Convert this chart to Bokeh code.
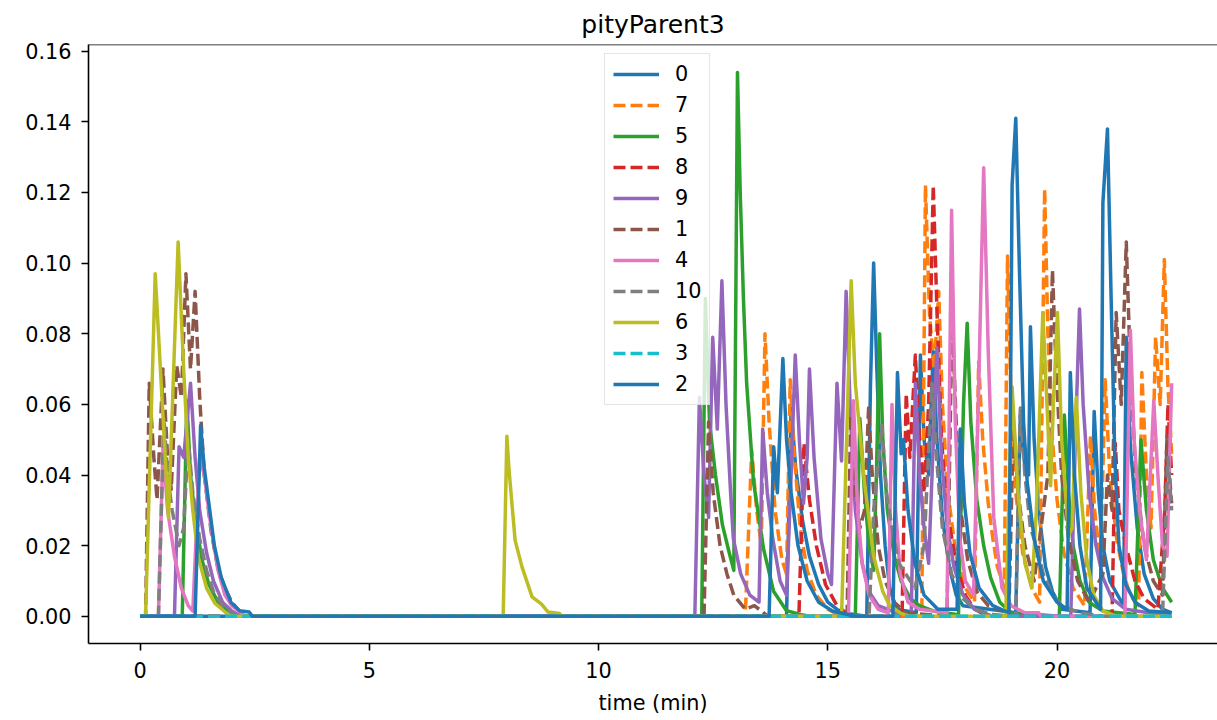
from bokeh.plotting import figure
from bokeh.models import Range1d, FixedTicker, NumeralTickFormatter, Legend, LegendItem, Span
from bokeh.embed import file_html
from bokeh.resources import INLINE

# ---------------- data (time in min, value) ----------------
names = ["0", "7", "5", "8", "9", "1", "4", "10", "6", "3", "2"]
x_ticks = [0, 5, 10, 15, 20]
y_ticks = [0.0, 0.02, 0.04, 0.06, 0.08, 0.10, 0.12, 0.14, 0.16]

t0 = [0, 14.1, 14.2, 14.3, 14.45, 14.6, 14.8, 15.0, 15.3, 15.85, 15.93, 16.0, 16.07, 16.15, 16.25, 16.35, 16.5,
      16.93, 17.02, 17.1, 17.2, 17.3, 17.38, 17.5, 17.65, 17.8, 17.95, 19.1, 19.2, 19.3, 19.38, 19.42, 19.5,
      19.6, 19.75, 19.9, 20.1, 20.72, 20.81, 20.9, 21.0, 21.15, 21.45, 21.51, 21.6, 21.75, 21.9, 22.1, 22.3, 22.5]
v0 = [0, 0, 0.059, 0.042, 0.027, 0.017, 0.009, 0.004, 0.001, 0.0, 0.065, 0.100, 0.070, 0.040, 0.020, 0.008, 0.002,
      0.001, 0.074, 0.050, 0.040, 0.075, 0.050, 0.028, 0.014, 0.006, 0.003, 0.001, 0.057, 0.042, 0.040, 0.082, 0.050,
      0.030, 0.014, 0.007, 0.002, 0.001, 0.058, 0.035, 0.020, 0.010, 0.003, 0.079, 0.048, 0.025, 0.012, 0.005, 0.002, 0.001]

t7 = [0, 13.2, 13.34, 13.45, 13.55, 13.63, 13.72, 13.85, 14.0, 14.1, 14.18, 14.27, 14.4, 14.55, 14.75, 15.0, 15.3,
      17.05, 17.13, 17.22, 17.32, 17.42, 17.5, 17.62, 17.8, 18.0, 18.2, 18.29, 18.38, 18.5, 18.6, 18.7, 18.85,
      18.92, 19.0, 19.1, 19.25, 19.45, 19.62, 19.73, 19.8, 19.9, 20.0, 20.15, 20.35, 20.6, 20.73, 20.82, 20.95,
      21.05, 21.15, 21.3, 21.45, 21.6, 21.78, 21.85, 21.95, 22.05, 22.15, 22.25, 22.34, 22.42, 22.5]
v7 = [0, 0, 0.047, 0.030, 0.020, 0.080, 0.055, 0.030, 0.016, 0.012, 0.067, 0.045, 0.025, 0.013, 0.006, 0.002, 0,
      0, 0.122, 0.085, 0.070, 0.092, 0.060, 0.035, 0.017, 0.008, 0.004, 0.072, 0.050, 0.032, 0.022, 0.014, 0.008,
      0.102, 0.060, 0.035, 0.018, 0.008, 0.004, 0.121, 0.080, 0.050, 0.033, 0.018, 0.008, 0.003, 0.051, 0.030, 0.015,
      0.067, 0.040, 0.022, 0.012, 0.006, 0.003, 0.069, 0.040, 0.025, 0.079, 0.060, 0.101, 0.065, 0.046]

t5 = [0, 0.92, 1.02, 1.1, 1.2, 1.35, 1.5, 1.7, 1.9, 2.1, 12.25, 12.33, 12.42, 12.55, 12.7, 12.85, 12.95, 13.03,
      13.09, 13.16, 13.23, 13.38, 13.6, 13.82, 14.1, 14.4, 14.6, 15.6, 15.7, 15.8, 15.9, 16.0, 16.06, 16.13, 16.2,
      16.3, 16.45, 16.6, 16.8, 17.0, 17.3, 17.8, 17.85, 17.96, 18.04, 18.12, 18.25, 18.4, 18.55, 18.75, 19.0, 20.05,
      20.16, 20.25, 20.35, 20.5, 20.7, 21.0, 21.7, 21.83, 21.95, 22.1, 22.3, 22.5]
v5 = [0, 0, 0.061, 0.040, 0.028, 0.016, 0.009, 0.004, 0.0015, 0, 0, 0.090, 0.055, 0.040, 0.026, 0.018, 0.013, 0.154,
      0.120, 0.090, 0.066, 0.038, 0.019, 0.007, 0.0016, 0.0005, 0, 0, 0.056, 0.035, 0.020, 0.013, 0.040, 0.080, 0.050,
      0.030, 0.017, 0.010, 0.005, 0.003, 0.0015, 0.0005, 0, 0.060, 0.083, 0.055, 0.033, 0.020, 0.011, 0.004, 0.001, 0,
      0.057, 0.035, 0.020, 0.010, 0.004, 0.0015, 0.0005, 0.050, 0.030, 0.016, 0.008, 0.004]

t8 = [0, 14.37, 14.48, 14.6, 14.75, 14.95, 15.2, 15.45, 15.6, 16.62, 16.71, 16.79, 16.91, 17.0, 17.1, 17.2, 17.3,
      17.38, 17.48, 17.6, 17.8, 18.0, 18.2, 18.5, 21.2, 21.27, 21.35, 21.5, 21.7, 21.9, 22.2, 22.35, 22.42, 22.5]
v8 = [0, 0, 0.049, 0.033, 0.020, 0.009, 0.003, 0.0005, 0, 0, 0.063, 0.045, 0.074, 0.050, 0.035, 0.060, 0.122,
      0.087, 0.050, 0.030, 0.015, 0.006, 0.002, 0, 0, 0.049, 0.030, 0.020, 0.010, 0.005, 0.002, 0.030, 0.060, 0.040]

t9 = [0, 0.75, 0.85, 0.95, 1.1, 1.2, 1.3, 1.45, 1.6, 1.8, 2.0, 2.2, 12.1, 12.2, 12.3, 12.4, 12.49, 12.59, 12.69,
      12.78, 12.88, 12.94, 13.1, 13.3, 13.5, 13.58, 13.68, 13.8, 13.96, 14.1, 14.2, 14.29, 14.38, 14.47, 14.55, 14.6,
      14.7, 14.85, 15.0, 15.08, 15.2, 15.3, 15.4, 15.5, 15.6, 15.75, 15.9, 16.1, 16.5, 16.82, 16.91, 17.0, 17.1, 17.2,
      17.38, 17.48, 17.6, 17.75, 17.95, 18.2, 18.6, 20.3, 20.4, 20.49, 20.57, 20.7, 20.85, 21.0, 21.2, 21.5, 22.5]
v9 = [0, 0, 0.048, 0.045, 0.066, 0.045, 0.030, 0.018, 0.010, 0.004, 0.0015, 0, 0, 0.062, 0.040, 0.028, 0.079, 0.053,
      0.095, 0.060, 0.035, 0.022, 0.012, 0.006, 0.004, 0.053, 0.035, 0.022, 0.010, 0.006, 0.040, 0.074, 0.050, 0.032,
      0.045, 0.070, 0.045, 0.022, 0.012, 0.009, 0.066, 0.044, 0.092, 0.055, 0.030, 0.015, 0.007, 0.003, 0.001, 0,
      0.066, 0.040, 0.025, 0.015, 0.076, 0.045, 0.026, 0.014, 0.006, 0.002, 0, 0, 0.050, 0.087, 0.060, 0.035, 0.020,
      0.011, 0.005, 0.002, 0]

t1 = [0, 0.12, 0.2, 0.3, 0.37, 0.5, 0.6, 0.68, 0.8, 0.9, 1.0, 1.1, 1.2, 1.3, 1.4, 1.55, 1.7, 1.85, 2.0, 2.2, 2.35,
      12.3, 12.4, 12.5, 12.65, 12.8, 12.95, 13.2, 13.4, 13.55, 13.7, 15.42, 15.5, 15.6, 15.7, 15.8, 15.89, 15.97,
      16.1, 16.25, 16.45, 16.7, 17.6, 17.71, 17.8, 17.9, 18.05, 18.25, 18.5, 18.95, 19.05, 19.15, 19.3, 19.5, 19.8,
      19.9, 19.98, 20.1, 20.25, 20.45, 20.7, 21.0, 21.1, 21.2, 21.29, 21.4, 21.51, 21.6, 21.72, 21.9, 22.1, 22.3,
      22.4, 22.48, 22.5]
v1 = [0, 0, 0.066, 0.045, 0.033, 0.070, 0.045, 0.036, 0.071, 0.062, 0.097, 0.070, 0.092, 0.062, 0.040, 0.024,
      0.0135, 0.008, 0.004, 0.001, 0, 0, 0.055, 0.035, 0.020, 0.012, 0.006, 0.002, 0.003, 0.0015, 0, 0, 0.057, 0.035,
      0.025, 0.030, 0.059, 0.040, 0.020, 0.010, 0.004, 0.001, 0, 0.085, 0.055, 0.030, 0.016, 0.007, 0.003, 0.001,
      0.055, 0.035, 0.020, 0.010, 0.040, 0.098, 0.070, 0.040, 0.022, 0.010, 0.004, 0.012, 0.040, 0.030, 0.086, 0.060,
      0.106, 0.070, 0.040, 0.020, 0.010, 0.006, 0.051, 0.035, 0.032]

t4 = [0, 0.4, 0.5, 0.6, 0.75, 0.9, 1.05, 1.15, 1.3, 1.4, 1.55, 1.7, 1.85, 2.0, 2.2, 2.3, 15.45, 15.56, 15.65, 15.75,
      15.9, 16.1, 16.32, 16.4, 16.48, 16.58, 16.75, 17.0, 17.6, 17.7, 17.78, 17.88, 18.0, 18.18, 18.3, 18.4, 18.5,
      18.62, 18.8, 19.0, 19.3, 19.6, 19.65, 21.48, 21.6, 21.68, 21.8, 21.95, 22.11, 22.2, 22.3, 22.4, 22.5]
v4 = [0, 0, 0.048, 0.030, 0.017, 0.008, 0.003, 0.0015, 0.045, 0.040, 0.025, 0.013, 0.006, 0.003, 0.001, 0, 0,
      0.061, 0.030, 0.015, 0.006, 0.002, 0.001, 0.060, 0.030, 0.012, 0.004, 0.002, 0.001, 0.115, 0.055, 0.022, 0.010,
      0.006, 0.070, 0.127, 0.075, 0.028, 0.008, 0.003, 0.001, 0.001, 0, 0, 0.081, 0.050, 0.030, 0.016, 0.061, 0.040,
      0.020, 0.017, 0.066]

t10 = [0, 0.4, 0.52, 0.6, 0.7, 0.85, 0.95, 1.05, 1.15, 1.3, 1.45, 1.6, 1.8, 2.0, 2.1, 15.9, 16.0, 16.18, 16.28,
       16.4, 16.55, 16.7, 16.9, 17.1, 17.27, 17.37, 17.5, 17.7, 17.95, 18.2, 18.6, 19.1, 19.2, 19.3, 19.42, 19.55,
       19.7, 19.9, 20.1, 20.5, 21.0, 22.3, 22.42, 22.5]
v10 = [0, 0, 0.056, 0.040, 0.030, 0.020, 0.025, 0.050, 0.035, 0.022, 0.013, 0.007, 0.003, 0.001, 0, 0, 0.030, 0.054,
       0.035, 0.025, 0.015, 0.012, 0.008, 0.020, 0.066, 0.045, 0.025, 0.012, 0.005, 0.002, 0.0005, 0, 0.059, 0.040,
       0.025, 0.020, 0.012, 0.006, 0.003, 0.001, 0, 0, 0.045, 0.030]

t6 = [0, 0.12, 0.33, 0.62, 0.83, 0.95, 1.05, 1.15, 1.27, 1.45, 1.63, 1.92, 2.0, 7.92, 8.0, 8.05, 8.18, 8.33, 8.55,
      8.75, 8.9, 9.15, 9.2, 15.3, 15.51, 15.6, 15.8, 16.0, 16.2, 16.35, 16.6, 16.8, 18.88, 19.02, 19.15, 19.3, 19.45,
      19.55, 19.69, 19.78, 19.86, 19.92, 20.01, 20.1, 20.25, 20.33, 20.42, 20.52, 20.65, 20.8, 21.0, 21.3, 22.5]
v6 = [0, 0, 0.097, 0.028, 0.106, 0.070, 0.045, 0.030, 0.0167, 0.008, 0.0037, 0.0005, 0, 0, 0.051, 0.041, 0.0215,
      0.014, 0.0055, 0.0035, 0.0012, 0.0008, 0, 0, 0.095, 0.066, 0.038, 0.017, 0.007, 0.003, 0.0008, 0, 0, 0.065,
      0.035, 0.015, 0.008, 0.030, 0.086, 0.060, 0.037, 0.060, 0.086, 0.050, 0.023, 0.025, 0.062, 0.035, 0.016, 0.006,
      0.0015, 0, 0]

t3 = [0, 22.5]
v3 = [0, 0]

t2 = [0, 1.2, 1.32, 1.4, 1.5, 1.62, 1.77, 1.98, 2.17, 2.38, 2.45, 13.72, 13.82, 13.9, 14.02, 14.1, 14.2, 14.35, 14.55,
      14.8, 15.1, 15.6, 16.42, 16.52, 16.6, 16.65, 16.75, 16.9, 17.1, 17.4, 17.82, 17.89, 17.98, 18.1, 18.3, 18.6,
      18.95, 19.02, 19.1, 19.18, 19.27, 19.35, 19.5, 19.7, 20.0, 20.22, 20.29, 20.38, 20.5, 20.65, 20.95, 21.0, 21.1,
      21.18, 21.26, 21.35, 21.5, 21.7, 22.0, 22.5]
v2 = [0, 0, 0.054, 0.042, 0.032, 0.020, 0.011, 0.004, 0.0016, 0.0012, 0, 0, 0.048, 0.035, 0.073, 0.050, 0.035,
      0.020, 0.010, 0.004, 0.0015, 0, 0, 0.069, 0.046, 0.050, 0.030, 0.015, 0.006, 0.002, 0.002, 0.053, 0.032, 0.018,
      0.008, 0.003, 0.001, 0.122, 0.141, 0.098, 0.055, 0.038, 0.022, 0.010, 0.004, 0.002, 0.069, 0.040, 0.020, 0.008,
      0.002, 0.117, 0.138, 0.090, 0.045, 0.020, 0.009, 0.004, 0.0015, 0.001]

series_t = [t0, t7, t5, t8, t9, t1, t4, t10, t6, t3, t2]
series_v = [v0, v7, v5, v8, v9, v1, v4, v10, v6, v3, v2]

# ---------------- style ----------------
colors = ["#1f77b4", "#ff7f0e", "#2ca02c", "#d62728", "#9467bd", "#8c564b",
          "#e377c2", "#7f7f7f", "#bcbd22", "#17becf", "#1f77b4"]
dashes = ["solid", "12 5", "solid", "12 5", "solid", "12 5",
          "solid", "12 5", "solid", "12 5", "solid"]
FONT = "DejaVu Sans"
FS = "20.8px"

p = figure(width=1217, height=720, output_backend="svg", toolbar_location=None,
           x_range=Range1d(-1.125, 23.50), y_range=Range1d(-0.0077, 0.1619),
           min_border_left=88, min_border_right=0, min_border_top=44, min_border_bottom=77,
           title="pityParent3")
p.background_fill_color = "white"
p.border_fill_color = "white"
p.outline_line_color = None
p.xgrid.visible = False
p.ygrid.visible = False

p.title.text_font = FONT
p.title.text_font_size = "25px"
p.title.text_font_style = "normal"
p.title.align = "center"
p.title.offset = 3
p.title.standoff = 11
p.title.text_color = "black"

for ax in (p.xaxis, p.yaxis):
    ax.major_tick_in = 0
    ax.major_tick_out = 7
    ax.minor_tick_in = 0
    ax.minor_tick_out = 0
    ax.major_tick_line_width = 1.6
    ax.axis_line_width = 1.6
    ax.major_tick_line_color = "black"
    ax.axis_line_color = "black"
    ax.major_label_text_font = FONT
    ax.major_label_text_font_size = FS
    ax.major_label_text_color = "black"
    ax.axis_label_text_font = FONT
    ax.axis_label_text_font_size = FS
    ax.axis_label_text_font_style = "normal"
    ax.axis_label_text_color = "black"

p.xaxis.ticker = FixedTicker(ticks=x_ticks)
p.yaxis.ticker = FixedTicker(ticks=y_ticks)
p.yaxis.formatter = NumeralTickFormatter(format="0.00")
p.xaxis.axis_label = "time (min)"
p.xaxis.major_label_standoff = 11
p.xaxis.axis_label_standoff = 10
p.yaxis.major_label_standoff = 10

top_line = Span(location=0.1619, dimension="width", line_color="black", line_width=1.6)
p.add_layout(top_line)

items = []
for name, tt, vv, c, d in zip(names, series_t, series_v, colors, dashes):
    r = p.line(tt, vv, line_color=c, line_width=3.5, line_dash=d, line_join="round")
    items.append(LegendItem(label=name, renderers=[r]))

legend = Legend(items=items, location=(516, 238),
                label_text_font=FONT, label_text_font_size=FS, label_text_color="black",
                glyph_width=46, glyph_height=20, label_height=20,
                spacing=7, padding=8, margin=0, label_standoff=16,
                border_line_color="#cccccc", border_line_width=1.5,
                background_fill_color="white", background_fill_alpha=0.8)
p.add_layout(legend)

open("out.html", "w").write(file_html(p, INLINE))
